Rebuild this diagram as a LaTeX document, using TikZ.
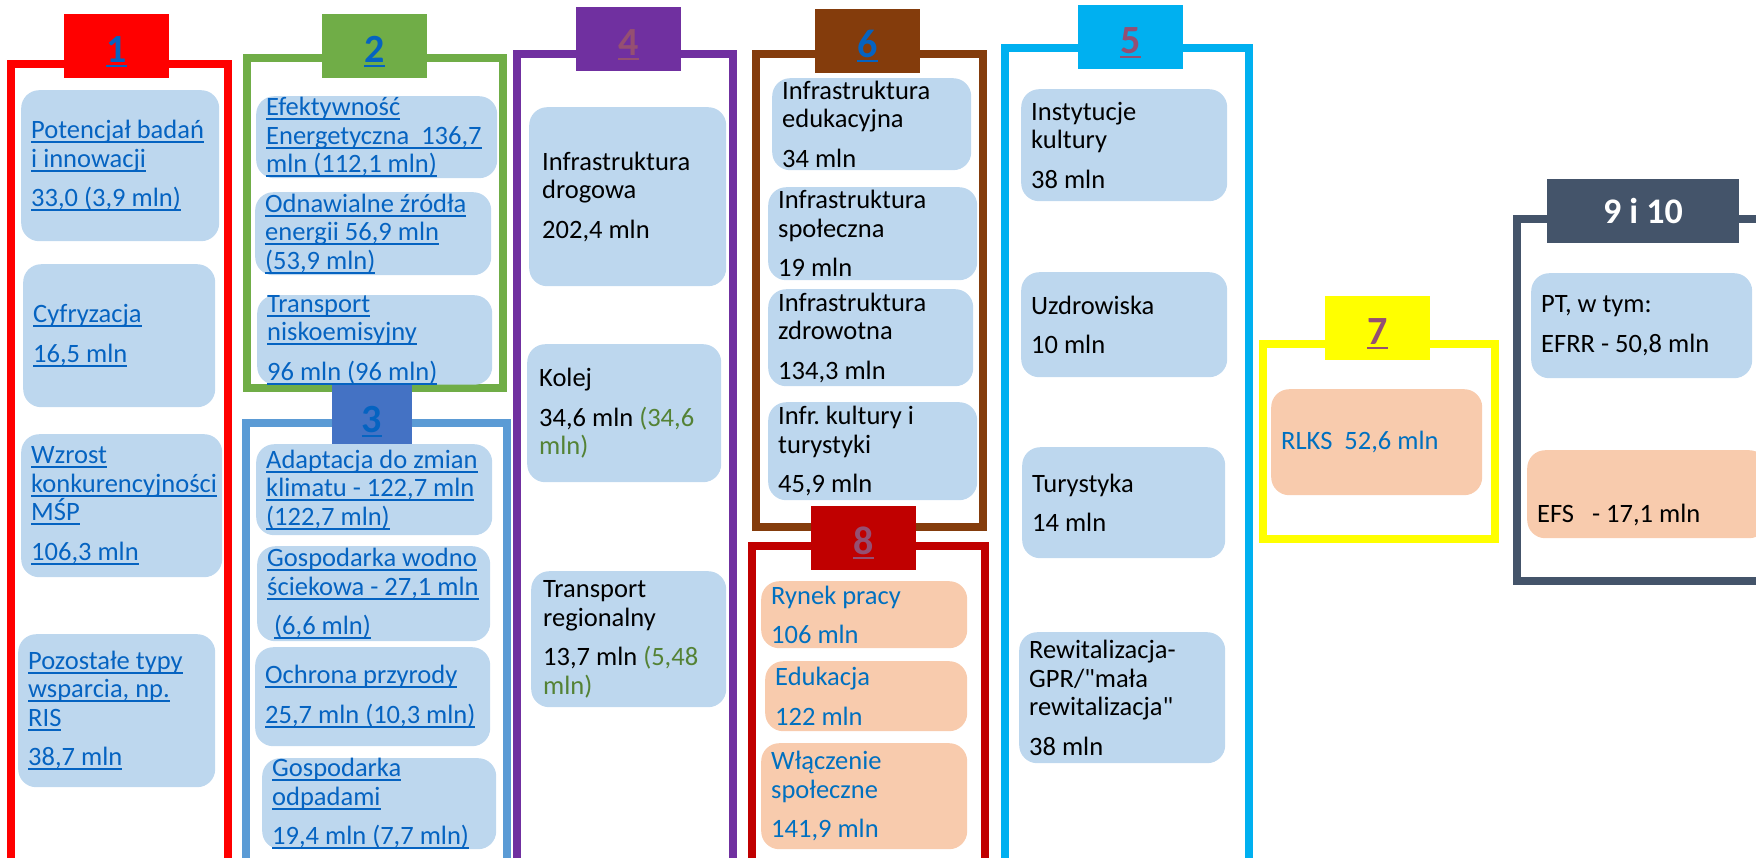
\documentclass[tikz,border=0pt]{standalone}
\usepackage{fontspec}
\setmainfont{Carlito}
\usepackage{xcolor}
\usepackage{tikz}
\definecolor{cRed}{HTML}{FF0000}
\definecolor{cGreen}{HTML}{70AD47}
\definecolor{cBlue}{HTML}{5B9BD5}
\definecolor{cBlueTab}{HTML}{4472C4}
\definecolor{cPurple}{HTML}{7030A0}
\definecolor{cBrown}{HTML}{843C0C}
\definecolor{cDarkRed}{HTML}{C00000}
\definecolor{cCyan}{HTML}{00B0F0}
\definecolor{cYellow}{HTML}{FFFF00}
\definecolor{cSlate}{HTML}{44546A}
\definecolor{boxBlue}{HTML}{BDD7EE}
\definecolor{boxPeach}{HTML}{F8CBAD}
\definecolor{linkBlue}{HTML}{0563C1}
\definecolor{linkVisited}{HTML}{954F72}
\definecolor{textBlue}{HTML}{0070C0}
\definecolor{textGreen}{HTML}{548235}
\hyphenpenalty=10000
\frenchspacing
\newsavebox{\lnkbox}
\newcommand{\lnk}[1]{\leavevmode\sbox{\lnkbox}{#1}\mbox{\rlap{\usebox{\lnkbox}}\rule[-4.5pt]{\wd\lnkbox}{2pt}}}
\newcommand{\dq}{\XeTeXglyph\XeTeXcharglyph"22\relax}

\begin{document}
\begin{tikzpicture}[x=1pt, y=-1pt,
                    every node/.style={font=\fontsize{26.5}{28.5}\selectfont},
                    frm/.style={line width=8pt},
                    tab/.style={inner sep=0pt, minimum width=105pt, minimum height=64pt, text height=32pt, text depth=0pt, font=\fontsize{40}{44}\selectfont\bfseries},
                    bbox/.style={anchor=north west, rounded corners=18pt, fill=boxBlue, inner xsep=10pt, inner ysep=0pt, align=flush left},
                    pbox/.style={bbox, fill=boxPeach, text=textBlue}]
                        \useasboundingbox (0,0) rectangle (1756,857);
                        \clip (0,0) rectangle (1756,857);
                        
                        \draw[frm, draw=cRed] (11,64) rectangle (228,900);
                        \draw[frm, draw=cGreen] (247,58) rectangle (503,388);
                        \draw[frm, draw=cBlue] (246,423) rectangle (507,900);
                        \draw[frm, draw=cPurple] (517,54) rectangle (733,900);
                        \draw[frm, draw=cBrown] (756,54) rectangle (983,527);
                        \draw[frm, draw=cDarkRed] (752,546) rectangle (985,900);
                        \draw[frm, draw=cCyan] (1005,48) rectangle (1249,900);
                        \draw[frm, draw=cYellow] (1263,344) rectangle (1495,539);
                        \draw[frm, draw=cSlate] (1517,219) rectangle (1800,581);
                        
                        \node (T1) at (116.5,46) [tab, fill=cRed, text=linkBlue] {\lnk{1}};
                        \node (T2) at (374.5,46) [tab, fill=cGreen, text=linkBlue] {\lnk{2}};
                        \node (T3) at (372,416.5) [tab, minimum width=80pt, minimum height=63pt, fill=cBlueTab, text=linkBlue] {\lnk{3}};
                        \node (T4) at (628.5,39) [tab, fill=cPurple, text=linkVisited] {\lnk{4}};
                        \node (T6) at (867.5,41) [tab, fill=cBrown, text=linkBlue] {\lnk{6}};
                        \node (T8) at (863.5,538) [tab, fill=cDarkRed, text=linkVisited] {\lnk{8}};
                        \node (T5) at (1130.5,37) [tab, fill=cCyan, text=linkVisited] {\lnk{5}};
                        \node (T7) at (1377.5,328) [tab, fill=cYellow, text=linkVisited] {\lnk{7}};
                        \node (T9) at (1643,211) [tab, minimum width=192pt, text height=24pt, fill=cSlate, text=white, font=\fontsize{36}{40}\selectfont\bfseries] {9 i 10};
                        
                        \node (P1) at (21,90) [bbox, minimum width=198pt, minimum height=151pt, text width=178pt, text=linkBlue] {\lnk{Potencjał badań}\\\lnk{i innowacji}\\[11pt]\lnk{33,0 (3,9 mln)}};
                        \node (P2) at (23,264) [bbox, minimum width=192pt, minimum height=143pt, text width=172pt, text=linkBlue] {\lnk{Cyfryzacja}\\[11pt]\lnk{16,5 mln}};
                        \node (P3) at (21,434) [bbox, minimum width=201pt, minimum height=143pt, text width=181pt, text=linkBlue] {\lnk{Wzrost}\\\lnk{konkurencyjności}\\\lnk{MŚP}\\[11pt]\lnk{106,3 mln}};
                        \node (P4) at (18,634) [bbox, minimum width=197pt, minimum height=153pt, text width=177pt, text=linkBlue] {\lnk{Pozostałe typy}\\\lnk{wsparcia, np.}\\\lnk{RIS}\\[11pt]\lnk{38,7 mln}};
                        
                        \node (E1) at (256,96) [bbox, minimum width=241pt, minimum height=82pt, text width=221pt, text=linkBlue] {\lnk{Efektywność}\\\lnk{Energetyczna\ \ 136,7}\\\lnk{mln (112,1 mln)}};
                        \node (E2) at (255,192) [bbox, minimum width=236pt, minimum height=83pt, text width=216pt, text=linkBlue] {\lnk{Odnawialne źródła}\\\lnk{energii 56,9 mln}\\\lnk{(53,9 mln)}};
                        \node (E3) at (257,295) [bbox, minimum width=235pt, minimum height=83pt, text width=215pt, text=linkBlue] {\lnk{Transport}\\\lnk{niskoemisyjny}\\[11pt]\lnk{96 mln (96 mln)}};
                        
                        \node (A1) at (256,444) [bbox, minimum width=236pt, minimum height=91pt, text width=216pt, text=linkBlue] {\lnk{Adaptacja do zmian}\\\lnk{klimatu - 122,7 mln}\\\lnk{(122,7 mln)}};
                        \node (A2) at (257,546) [bbox, minimum width=233pt, minimum height=95pt, text width=213pt, text=linkBlue] {\lnk{Gospodarka wodno}\\\lnk{ściekowa - 27,1 mln}\\[11pt]\hspace*{7pt}\lnk{(6,6 mln)}};
                        \node (A3) at (255,647) [bbox, minimum width=235pt, minimum height=99pt, text width=215pt, text=linkBlue] {\lnk{Ochrona przyrody}\\[11pt]\lnk{25,7 mln (10,3 mln)}};
                        \node (A4) at (262,758) [bbox, minimum width=234pt, minimum height=91pt, text width=214pt, text=linkBlue] {\lnk{Gospodarka}\\\lnk{odpadami}\\[11pt]\lnk{19,4 mln (7,7 mln)}};
                        
                        \node (R1) at (529,107) [bbox, inner xsep=13pt, minimum width=197pt, minimum height=179pt, text width=171pt] {Infrastruktura\\drogowa\\[11pt]202,4 mln};
                        \node (R2) at (527,344) [bbox, inner xsep=12pt, minimum width=194pt, minimum height=138pt, text width=170pt] {Kolej\\[11pt]34,6 mln {\color{textGreen}(34,6}\\{\color{textGreen}mln)}};
                        \node (R3) at (531,571) [bbox, inner xsep=12pt, minimum width=195pt, minimum height=136pt, text width=171pt] {Transport\\regionalny\\[11pt]13,7 mln {\color{textGreen}(5,48}\\{\color{textGreen}mln)}};
                        
                        \node (I1) at (772,78) [bbox, minimum width=199pt, minimum height=92pt, text width=179pt] {Infrastruktura\\edukacyjna\\[11pt]34 mln};
                        \node (I2) at (768,187) [bbox, minimum width=209pt, minimum height=93pt, text width=189pt] {Infrastruktura\\społeczna\\[11pt]19 mln};
                        \node (I3) at (768,289) [bbox, minimum width=205pt, minimum height=97pt, text width=185pt] {Infrastruktura\\zdrowotna\\[11pt]134,3 mln};
                        \node (I4) at (768,402) [bbox, minimum width=209pt, minimum height=98pt, text width=189pt] {Infr. kultury i\\turystyki\\[11pt]45,9 mln};
                        
                        \node (S1) at (761,581) [pbox, minimum width=206pt, minimum height=67pt, text width=186pt] {Rynek pracy\\[11pt]106 mln};
                        \node (S2) at (765,661) [pbox, minimum width=202pt, minimum height=70pt, text width=182pt] {Edukacja\\[11pt]122 mln};
                        \node (S3) at (761,743) [pbox, minimum width=206pt, minimum height=106pt, text width=186pt] {Włączenie\\społeczne\\[11pt]141,9 mln};
                        
                        \node (K1) at (1021,89) [bbox, minimum width=206pt, minimum height=112pt, text width=186pt] {Instytucje\\kultury\\[11pt]38 mln};
                        \node (K2) at (1021,272) [bbox, minimum width=206pt, minimum height=105pt, text width=186pt] {Uzdrowiska\\[11pt]10 mln};
                        \node (K3) at (1022,447) [bbox, minimum width=203pt, minimum height=111pt, text width=183pt] {Turystyka\\[11pt]14 mln};
                        \node (K4) at (1019,632) [bbox, minimum width=206pt, minimum height=131pt, text width=186pt] {Rewitalizacja-\\GPR/\dq mała\\rewitalizacja\dq\\[11pt]38 mln};
                        
                        \node (L1) at (1271,389) [pbox, minimum width=211pt, minimum height=106pt, text width=191pt] {RLKS\ \ 52,6 mln};
                        
                        \node (N1) at (1531,273) [bbox, minimum width=221pt, minimum height=105pt, text width=201pt] {PT, w tym:\\[11pt]EFRR - 50,8 mln};
                        \node (N2) at (1527,450) [pbox, minimum width=240pt, minimum height=88pt, text width=220pt, text=black] {\strut\\[11pt]EFS\ \ \ - 17,1 mln};
                    \end{tikzpicture}
\end{document}
